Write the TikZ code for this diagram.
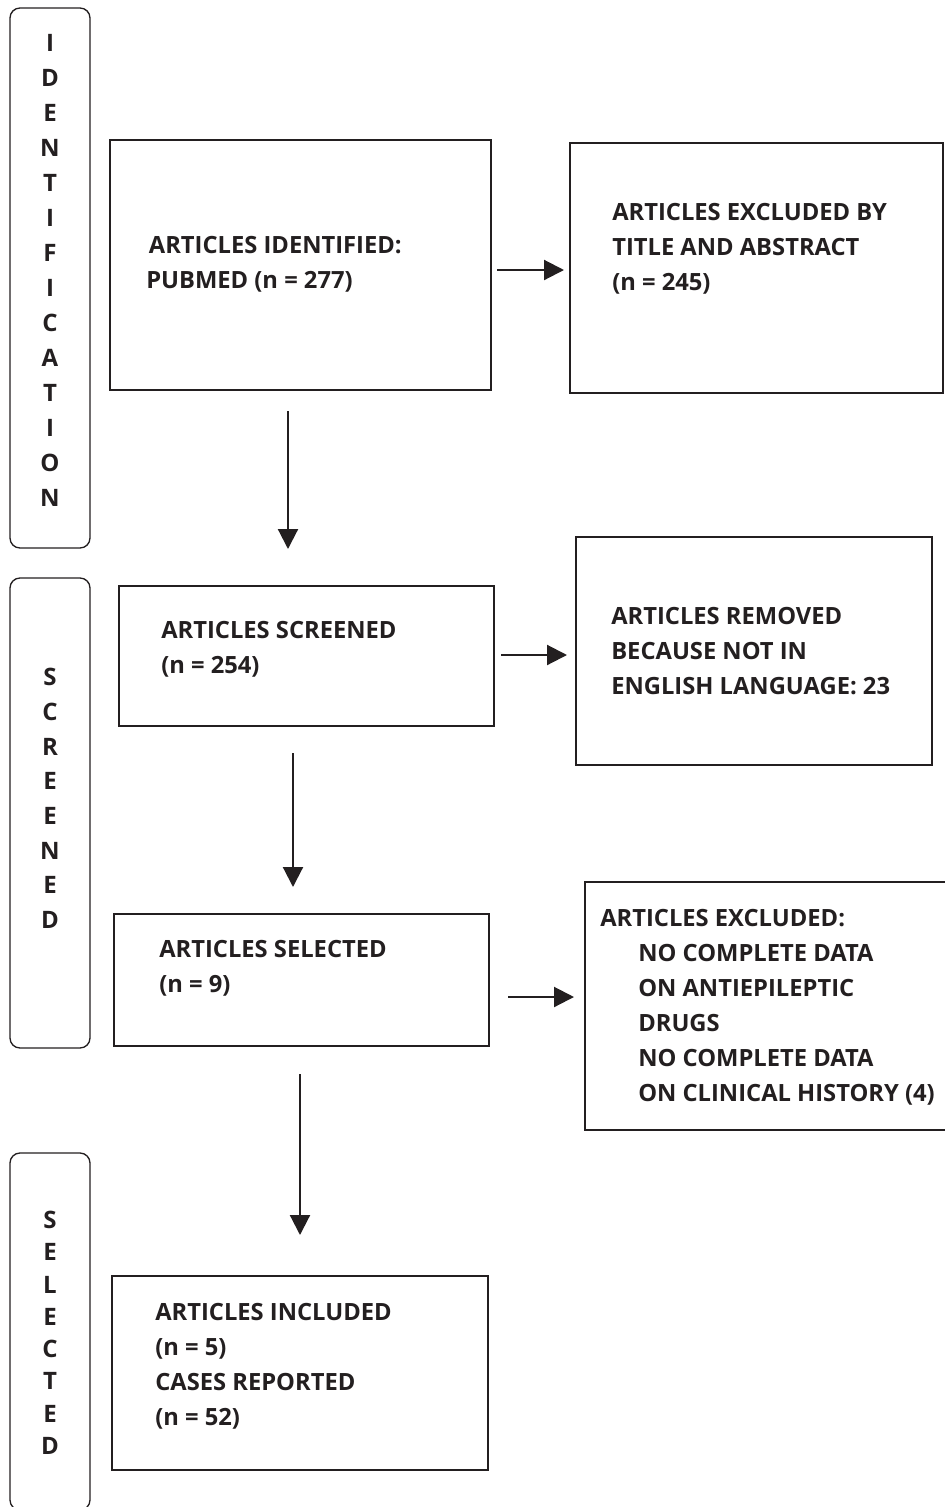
\documentclass[tikz,border=0pt]{standalone}
\usepackage{fontspec}
\setmainfont{Open Sans}
\usepackage{tikz}
\usetikzlibrary{calc,arrows.meta}
\definecolor{ink}{HTML}{231F20}

\begin{document}
\begin{tikzpicture}[x=0.75pt,y=-0.75pt,
    box/.style={draw=ink,line width=1.5pt,rectangle,inner sep=0pt},
    stage/.style={draw=ink,line width=1pt,rectangle,rounded corners=7.5pt,inner sep=0pt,minimum width=60pt},
    txt/.style={text=ink,font=\fontsize{17.8}{26.25}\selectfont\bfseries,align=left,anchor=base west,inner sep=0pt},
    letters/.style={text=ink,font=\fontsize{18}{#1}\selectfont\bfseries,align=center,anchor=base,inner sep=0pt},
    arr/.style={draw=ink,line width=1.6pt,-{Triangle[length=15pt,width=15pt]}}]
      \useasboundingbox (0,0) rectangle (945,1507);
      % stages on the left
      \node[stage,minimum height=405pt] (stid) at (50,278) {};
      \node[stage,minimum height=352.5pt] (stscr) at (50,813) {};
      \node[stage,minimum height=267.75pt] (stsel) at (50,1331.5) {};
      \node[letters=26.25pt] (lid) at (50,506.5) {I\\D\\E\\N\\T\\I\\F\\I\\C\\A\\T\\I\\O\\N};
      \node[letters=26pt] (lscr) at (50,928.5) {S\\C\\R\\E\\E\\N\\E\\D};
      \node[letters=24.2pt] (lsel) at (50,1454.5) {S\\E\\L\\E\\C\\T\\E\\D};
      % boxes
      \node[box,minimum width=285.75pt,minimum height=187.5pt] (idbox) at (300.5,265) {};
      \node[box,minimum width=279.75pt,minimum height=187.5pt] (exbox) at (756.5,268) {};
      \node[box,minimum width=281.25pt,minimum height=105pt] (scrbox) at (306.5,656) {};
      \node[box,minimum width=267pt,minimum height=171pt] (rembox) at (754,651) {};
      \node[box,minimum width=281.25pt,minimum height=99pt] (selbox) at (301.5,980) {};
      \node[box,minimum width=285pt,minimum height=186pt] (exdbox) at (775,1006) {};
      \node[box,minimum width=282pt,minimum height=145.5pt] (incbox) at (300,1373) {};
      % texts (anchored at the last baseline)
      \node[txt] (idtxt) at (146,288.5) {\hspace*{2pt}ARTICLES IDENTIFIED:\\PUBMED (n = 277)};
      \node[txt] (extxt) at (612,290.5) {ARTICLES EXCLUDED BY\\TITLE AND ABSTRACT\\(n = 245)};
      \node[txt] (scrtxt) at (161,673.5) {ARTICLES SCREENED\\(n = 254)};
      \node[txt] (remtxt) at (611,694) {ARTICLES REMOVED\\BECAUSE NOT IN\\ENGLISH LANGUAGE: 23};
      \node[txt] (seltxt) at (159,992.5) {ARTICLES SELECTED\\(n = 9)};
      \node[txt] (exdtxt) at (600,1101) {ARTICLES EXCLUDED:\\\hspace*{28.5pt}NO COMPLETE DATA\\\hspace*{28.5pt}ON ANTIEPILEPTIC\\\hspace*{28.5pt}DRUGS\\\hspace*{28.5pt}NO COMPLETE DATA\\\hspace*{28.5pt}ON CLINICAL HISTORY (4)};
      \node[txt] (inctxt) at (155,1425) {ARTICLES INCLUDED\\(n = 5)\\CASES REPORTED\\(n = 52)};
      % arrows
      \draw[arr] ([shift={(5,5)}]idbox.east) -- ([shift={(-5,2)}]exbox.west);
      \draw[arr] ([shift={(-12.5,20)}]idbox.south) -- ([shift={(-18.5,-36)}]scrbox.north);
      \draw[arr] ([shift={(6,-1)}]scrbox.east) -- ([shift={(-8,4)}]rembox.west);
      \draw[arr] ([shift={(-13.5,26)}]scrbox.south) -- ([shift={(-8.5,-26)}]selbox.north);
      \draw[arr] ([shift={(18,17)}]selbox.east) -- ([shift={(-10,-9)}]exdbox.west);
      \draw[arr] ([shift={(-1.5,27)}]selbox.south) -- ([shift={(0,-40)}]incbox.north);
\end{tikzpicture}
\end{document}
